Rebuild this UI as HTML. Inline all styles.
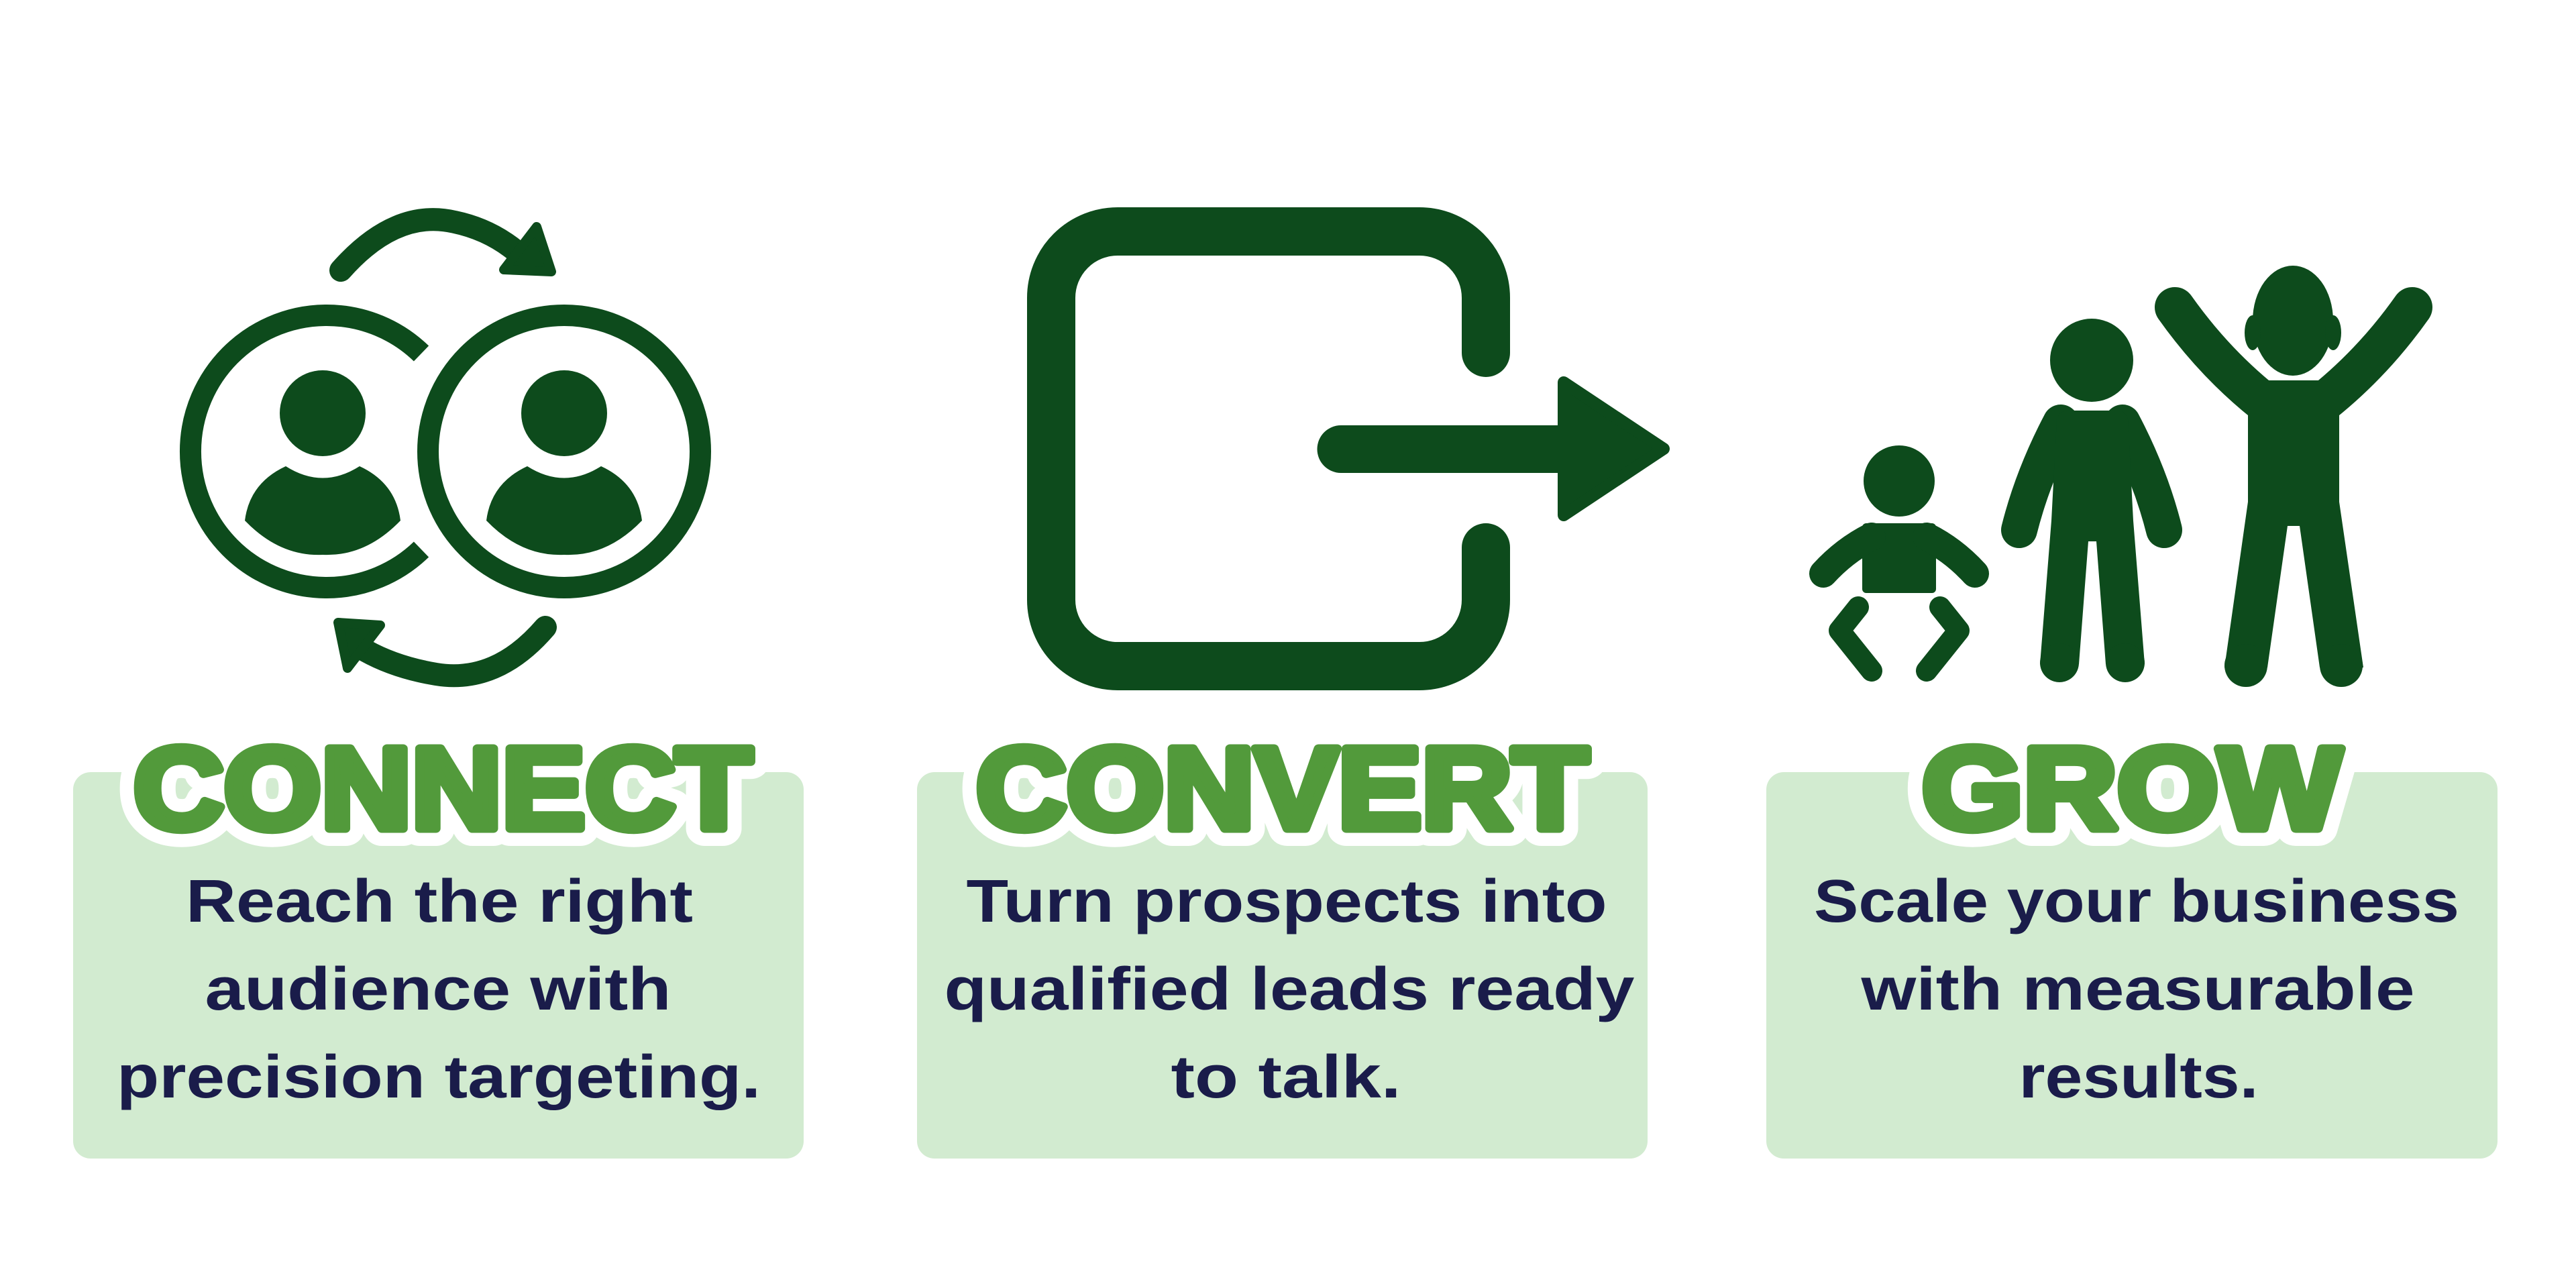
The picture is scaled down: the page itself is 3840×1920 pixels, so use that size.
<!DOCTYPE html>
<html><head><meta charset="utf-8"><style>html,body{margin:0;padding:0;background:#fff}svg{display:block}</style></head>
<body>
<svg width="3840" height="1920" viewBox="0 0 3840 1920" xmlns="http://www.w3.org/2000/svg">
<rect width="3840" height="1920" fill="#fff"/>
<rect x="109" y="1151" width="1089" height="576" rx="26" fill="#d2ebd0"/>
<rect x="1367" y="1151" width="1089" height="576" rx="26" fill="#d2ebd0"/>
<rect x="2633" y="1151" width="1090" height="576" rx="26" fill="#d2ebd0"/>

<g font-family="Liberation Sans, sans-serif" font-weight="bold" font-size="173">
 <g fill="#fff" stroke="#fff" stroke-width="52" stroke-linejoin="round">
  <text x="199" y="1235" textLength="922" lengthAdjust="spacingAndGlyphs">CONNECT</text>
  <text x="1455" y="1235" textLength="913" lengthAdjust="spacingAndGlyphs">CONVERT</text>
  <text x="2865" y="1235" textLength="625" lengthAdjust="spacingAndGlyphs">GROW</text>
 </g>
 <g fill="#529a3b" stroke="#529a3b" stroke-width="13" stroke-linejoin="round">
  <text x="199" y="1235" textLength="922" lengthAdjust="spacingAndGlyphs">CONNECT</text>
  <text x="1455" y="1235" textLength="913" lengthAdjust="spacingAndGlyphs">CONVERT</text>
  <text x="2865" y="1235" textLength="625" lengthAdjust="spacingAndGlyphs">GROW</text>
 </g>
</g>

<g font-family="Liberation Sans, sans-serif" font-weight="bold" font-size="90" fill="#1a1c4a" text-anchor="middle">
 <text x="655" y="1374" textLength="756" lengthAdjust="spacingAndGlyphs">Reach the right</text>
 <text x="653" y="1505" textLength="695" lengthAdjust="spacingAndGlyphs">audience with</text>
 <text x="654" y="1636" textLength="960" lengthAdjust="spacingAndGlyphs">precision targeting.</text>
 <text x="1918" y="1374" textLength="955" lengthAdjust="spacingAndGlyphs">Turn prospects into</text>
 <text x="1922" y="1505" textLength="1029" lengthAdjust="spacingAndGlyphs">qualified leads ready</text>
 <text x="1917" y="1636" textLength="343" lengthAdjust="spacingAndGlyphs">to talk.</text>
 <text x="3185" y="1374" textLength="962" lengthAdjust="spacingAndGlyphs">Scale your business</text>
 <text x="3187" y="1505" textLength="825" lengthAdjust="spacingAndGlyphs">with measurable</text>
 <text x="3188" y="1636" textLength="357" lengthAdjust="spacingAndGlyphs">results.</text>
</g>

<g fill="#0d4b1c" stroke="none">
 <path d="M628,527 A203,203 0 1 0 628,819" fill="none" stroke="#0d4b1c" stroke-width="32"/>
 <circle cx="841" cy="673" r="203" fill="none" stroke="#0d4b1c" stroke-width="32"/>
 <circle cx="481" cy="616" r="64"/>
 <path d="M426,695 Q481,730 536,695 Q590,720 597,776 Q545,830 481,827 Q417,830 365,776 Q372,720 426,695 Z"/>
 <circle cx="841" cy="616" r="64"/>
 <path d="M786,695 Q841,730 896,695 Q950,720 957,776 Q905,830 841,827 Q777,830 725,776 Q732,720 786,695 Z"/>
 <path d="M508,403 Q590,310 678,331 Q730,342 770,375" fill="none" stroke="#0d4b1c" stroke-width="34" stroke-linecap="round"/>
 <polygon points="800,338 822,405 751,402" stroke="#0d4b1c" stroke-width="14" stroke-linejoin="round"/>
 <path d="M813,935 Q740,1020 650,1005 Q590,995 545,970" fill="none" stroke="#0d4b1c" stroke-width="34" stroke-linecap="round"/>
 <polygon points="504,928 518,996 567,932" stroke="#0d4b1c" stroke-width="14" stroke-linejoin="round"/>

 <path d="M2215,526 L2215,444 A99,99 0 0 0 2116,345 L1666,345 A99,99 0 0 0 1567,444 L1567,894 A99,99 0 0 0 1666,993 L2116,993 A99,99 0 0 0 2215,894 L2215,816" fill="none" stroke="#0d4b1c" stroke-width="72" stroke-linecap="round" stroke-linejoin="round"/>
 <line x1="1999" y1="669.5" x2="2340" y2="669.5" stroke="#0d4b1c" stroke-width="71" stroke-linecap="round"/>
 <polygon points="2331,570 2480,669 2331,768" stroke="#0d4b1c" stroke-width="18" stroke-linejoin="round"/>

 <circle cx="2831" cy="717" r="53"/>
 <rect x="2776" y="780" width="110" height="104" rx="6"/>
 <g fill="none" stroke="#0d4b1c" stroke-linecap="round" stroke-linejoin="round">
  <path d="M2790,800 Q2750,820 2718,855" stroke-width="42"/>
  <path d="M2872,800 Q2912,820 2944,855" stroke-width="42"/>
  <polyline points="2770,905 2742,940 2790,1000" stroke-width="32"/>
  <polyline points="2892,905 2920,940 2872,1000" stroke-width="32"/>
  <path d="M3072,630 Q3030,710 3010,790" stroke-width="54"/>
  <path d="M3164,630 Q3206,710 3226,790" stroke-width="54"/>
  <path d="M3375,600 Q3300,540 3242,458" stroke-width="60"/>
  <path d="M3463,600 Q3538,540 3596,458" stroke-width="60"/>
 </g>
 <circle cx="3118" cy="537" r="62"/>
 <path d="M3082,612 L3158,612 Q3168,612 3172,625 L3180,776 L3197,990 L3139,990 L3125,807 L3113,807 L3099,990 L3041,990 L3058,776 L3066,625 Q3070,612 3082,612 Z"/>
 <circle cx="3070" cy="988" r="29"/>
 <circle cx="3168" cy="988" r="29"/>
 <ellipse cx="3418" cy="478" rx="60" ry="82"/>
 <ellipse cx="3358" cy="496" rx="12" ry="26"/>
 <ellipse cx="3478" cy="496" rx="12" ry="26"/>
 <path d="M3351,567 L3487,567 L3487,748 L3523,995 L3458,995 L3428,784 L3410,784 L3380,995 L3316,995 L3351,748 Z"/>
 <circle cx="3348" cy="992" r="32"/>
 <circle cx="3490" cy="992" r="32"/>
</g>
</svg>
</body></html>
